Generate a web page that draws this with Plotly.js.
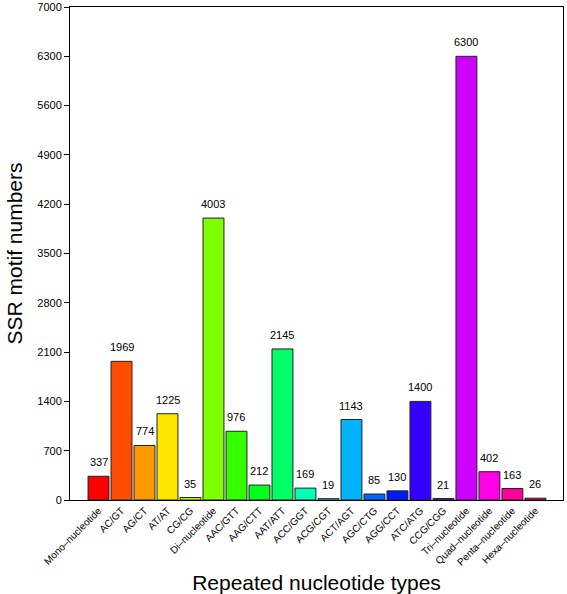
<!DOCTYPE html>
<html>
<head>
<meta charset="utf-8">
<script src="https://cdn.plot.ly/plotly-3.0.1.min.js"></script>
<style>html,body{margin:0;padding:0;background:#fff;}#chart{width:567px;height:594px;}</style>
</head>
<body>
<div id="chart"></div>
<script>
const categories = ["Mono–nucleotide","AC/GT","AG/CT","AT/AT","CG/CG","Di–nucleotide","AAC/GTT","AAG/CTT","AAT/ATT","ACC/GGT","ACG/CGT","ACT/AGT","AGC/CTG","AGG/CCT","ATC/ATG","CCG/CGG","Tri–nucleotide","Quad–nucleotide","Penta–nucleotide","Hexa–nucleotide"];
const counts = [337,1969,774,1225,35,4003,976,212,2145,169,19,1143,85,130,1400,21,6300,402,163,26];
const barColors = ["#FF0000","#FF4D00","#FF9900","#FFE600","#CCFF00","#80FF00","#33FF00","#00FF1A","#00FF66","#00FFB3","#00FFFF","#00B3FF","#0066FF","#001AFF","#3300FF","#8000FF","#CC00FF","#FF00E6","#FF0099","#FF004D"];
const yTicks = [0,700,1400,2100,2800,3500,4200,4900,5600,6300,7000];

const idx = categories.map((c,i)=>i);
const font = "Liberation Sans, Arial, Helvetica, sans-serif";

const trace = {
  type: "bar",
  x: idx,
  y: counts,
  marker: {color: barColors, line: {color: "#222", width: 1}},
  width: 0.91,
  hoverinfo: "skip"
};

const annotations = counts.map((v,i)=>({
  x: i, y: v, xref: "x", yref: "y",
  text: String(v), showarrow: false,
  yanchor: "bottom", yshift: 6,
  font: {family: font, size: 11, color: "#000"}
}));

const layout = {
  width: 567, height: 594,
  margin: {l: 70, r: 4, t: 7, b: 94},
  paper_bgcolor: "#fff", plot_bgcolor: "#fff",
  showlegend: false,
  font: {family: font, color: "#000"},
  xaxis: {
    range: [-1.24, 20.2],
    tickmode: "array", tickvals: idx, ticktext: categories,
    tickangle: -45, ticks: "", tickfont: {family: font, size: 10, color: "#000"},
    showline: true, linecolor: "#000", linewidth: 1, mirror: true,
    showgrid: false, zeroline: false,
    title: {text: "Repeated nucleotide types", font: {family: font, size: 21, color: "#000"}, standoff: 8}
  },
  yaxis: {
    range: [0, 7000],
    tickmode: "array", tickvals: yTicks, ticktext: yTicks.map(String),
    ticks: "outside", ticklen: 5, tickcolor: "#000", tickwidth: 1,
    tickfont: {family: font, size: 11, color: "#000"},
    showline: true, linecolor: "#000", linewidth: 1, mirror: true,
    showgrid: false, zeroline: false,
    title: {text: "SSR motif numbers", font: {family: font, size: 21, color: "#000"}, standoff: 8}
  },
  annotations: annotations
};

Plotly.newPlot("chart", [trace], layout, {displayModeBar: false, staticPlot: true});
</script>
</body>
</html>
